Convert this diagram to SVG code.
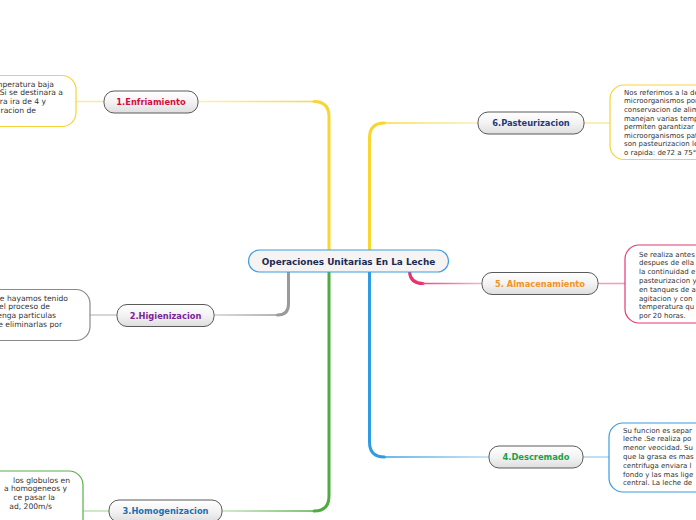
<svg xmlns="http://www.w3.org/2000/svg" width="696" height="520" viewBox="0 0 696 520">
<defs>
<linearGradient id="nodeFill" x1="0" y1="0" x2="0" y2="1">
<stop offset="0" stop-color="#ffffff"/>
<stop offset="0.5" stop-color="#f3f3f3"/>
<stop offset="1" stop-color="#dedede"/>
</linearGradient>
<linearGradient id="gY1" gradientUnits="userSpaceOnUse" x1="315" y1="0" x2="198" y2="0"><stop offset="0" stop-color="#f8d93e"/><stop offset="1" stop-color="#fcefb8"/></linearGradient>
<linearGradient id="gY6" gradientUnits="userSpaceOnUse" x1="384" y1="0" x2="478" y2="0"><stop offset="0" stop-color="#f8d93e"/><stop offset="1" stop-color="#fcefb8"/></linearGradient>
<linearGradient id="gGr" gradientUnits="userSpaceOnUse" x1="278" y1="0" x2="214" y2="0"><stop offset="0" stop-color="#9a9a9a"/><stop offset="1" stop-color="#cfcfcf"/></linearGradient>
<linearGradient id="gGn" gradientUnits="userSpaceOnUse" x1="315" y1="0" x2="222" y2="0"><stop offset="0" stop-color="#55ad45"/><stop offset="1" stop-color="#c4e3bd"/></linearGradient>
<linearGradient id="gBl" gradientUnits="userSpaceOnUse" x1="384" y1="0" x2="489" y2="0"><stop offset="0" stop-color="#3aa0e6"/><stop offset="1" stop-color="#b5dbf5"/></linearGradient>
<linearGradient id="gPk" gradientUnits="userSpaceOnUse" x1="422" y1="0" x2="482" y2="0"><stop offset="0" stop-color="#ec4b80"/><stop offset="1" stop-color="#f7b3ca"/></linearGradient>
</defs>
<style>
.main{fill:none;stroke-width:3;stroke-linecap:round}
.thin{fill:none;stroke-width:1.5}
.sub rect{fill:url(#nodeFill);stroke:#5a5a5a;stroke-width:1}
.sub text{font-family:"DejaVu Sans",Verdana,sans-serif;font-weight:bold;font-size:8.3px;text-anchor:middle}
.box rect{fill:#ffffff;stroke-width:1.2}
.box text{font-family:"DejaVu Sans",Verdana,sans-serif;font-size:7px;fill:#333333}
.l text{text-anchor:end;font-size:7.6px}
</style>
<rect width="696" height="520" fill="#ffffff"/>
<g id="connectors">
<path class="main" d="M329 250 V117 Q329 101.5 314 101.5" stroke="#f8d631"/>
<path class="thin" d="M315 101.5 H198" stroke="url(#gY1)"/>
<path class="thin" d="M104 101.5 H76" stroke="#fbe8a2"/>
<path class="main" d="M369.5 250 V138 Q369.5 123 384.5 123" stroke="#f8d631"/>
<path class="thin" d="M384 123 H478" stroke="url(#gY6)"/>
<path class="thin" d="M584 123 H610" stroke="#fbe8a2"/>
<path class="main" d="M288.5 272 V304 Q288.5 315 277.5 315" stroke="#9a9a9a"/>
<path class="thin" d="M278 315 H214" stroke="url(#gGr)"/>
<path class="thin" d="M117 315 H90" stroke="#c8c8c8"/>
<path class="main" d="M329 272 V496 Q329 511 314 511" stroke="#4fab3f"/>
<path class="thin" d="M315 511 H222" stroke="url(#gGn)"/>
<path class="thin" d="M109 511 H83" stroke="#bfe0b6"/>
<path class="main" d="M369.5 272 V442 Q369.5 457 384.5 457" stroke="#2f9be3"/>
<path class="thin" d="M384 457 H489" stroke="url(#gBl)"/>
<path class="thin" d="M583 457 H609" stroke="#a9d5f3"/>
<path class="main" d="M409.5 272 Q410.5 283.5 423 283.5" stroke="#e8336e"/>
<path class="thin" d="M422 283.5 H482" stroke="url(#gPk)"/>
<path class="thin" d="M598 283.5 H625" stroke="#f59ab9"/>
</g>
<g id="center">
<rect x="248.5" y="250" width="200" height="22" rx="11" fill="#f6f3f3" stroke="#3d9ee0" stroke-width="1.2"/>
<text x="348.5" y="265.3" font-family="DejaVu Sans,Verdana,sans-serif" font-weight="bold" font-size="8.9px" text-anchor="middle" fill="#1b2a52">Operaciones Unitarias En La Leche</text>
</g>
<g id="n1" class="sub">
<rect x="104" y="91" width="94" height="22" rx="10"/>
<text x="151" y="105" fill="#d40c3c">1.Enfriamiento</text>
</g>
<g id="n2" class="sub">
<rect x="117" y="304.5" width="97" height="22" rx="10"/>
<text x="165.5" y="318.5" fill="#7b2595">2.Higienizacion</text>
</g>
<g id="n3" class="sub">
<rect x="109" y="500" width="113" height="22" rx="10"/>
<text x="165.5" y="514.2" fill="#1c6fb0">3.Homogenizacion</text>
</g>
<g id="n6" class="sub">
<rect x="478" y="112" width="106" height="22" rx="10"/>
<text x="531" y="126" fill="#1e3a7b">6.Pasteurizacion</text>
</g>
<g id="n5" class="sub">
<rect x="482" y="272.5" width="116" height="22" rx="10"/>
<text x="540" y="286.6" fill="#f39423">5. Almacenamiento</text>
</g>
<g id="n4" class="sub">
<rect x="489" y="446" width="94" height="22" rx="10"/>
<text x="536" y="460.2" fill="#16a34a">4.Descremado</text>
</g>
<g id="b1" class="box l">
<rect x="-100" y="75.5" width="176" height="51" rx="14" stroke="#f7d33a"/>
<text x="54" y="86.5">mperatura baja</text>
<text x="63" y="95.3">. Si se destinara a</text>
<text x="46" y="104.1">ra ira de 4 y</text>
<text x="36" y="112.9">racion de</text>
</g>
<g id="b2" class="box l">
<rect x="-100" y="289.5" width="190" height="51" rx="14" stroke="#8a8a8a"/>
<text x="68" y="300.5">e hayamos tenido</text>
<text x="50" y="309.3">el proceso de</text>
<text x="56" y="318.1">enga particulas</text>
<text x="62" y="326.9">e eliminarlas por</text>
</g>
<g id="b3" class="box l">
<rect x="-100" y="471" width="183" height="80" rx="14" stroke="#5aae48"/>
<text x="70" y="482.5">los globulos en</text>
<text x="67" y="491.3">a homogeneos y</text>
<text x="55" y="500.1">ce pasar la</text>
<text x="52" y="508.9">ad, 200m/s</text>
</g>
<g id="b6" class="box">
<rect x="610" y="85" width="150" height="74.5" rx="14" stroke="#f7d33a"/>
<text x="624" y="94.8">Nos referimos a la de</text>
<text x="624" y="103.4">microorganismos por</text>
<text x="624" y="112">conservacion de alim</text>
<text x="624" y="120.6">manejan varias temp</text>
<text x="624" y="129.2">permiten garantizar</text>
<text x="624" y="137.8">microorganismos pat</text>
<text x="624" y="146.4">son pasteurizacion le</text>
<text x="624" y="155">o rapida: de72 a 75°</text>
</g>
<g id="b5" class="box">
<rect x="625" y="245" width="150" height="78" rx="14" stroke="#e23a72"/>
<text x="639" y="256.5">Se realiza antes</text>
<text x="639" y="265.3">despues de ella</text>
<text x="639" y="274.1">la continuidad e</text>
<text x="639" y="282.9">pasteurizacion y</text>
<text x="639" y="291.7">en tanques de a</text>
<text x="639" y="300.5">agitacion y con</text>
<text x="639" y="309.3">temperatura qu</text>
<text x="639" y="318.1">por 20 horas.</text>
</g>
<g id="b4" class="box">
<rect x="609" y="423" width="150" height="69" rx="14" stroke="#3b9be3"/>
<text x="623" y="432.5">Su funcion es separ</text>
<text x="623" y="441.3">leche .Se realiza po</text>
<text x="623" y="450.1">menor veocidad. Su</text>
<text x="623" y="458.9">que la grasa es mas</text>
<text x="623" y="467.7">centrifuga enviara l</text>
<text x="623" y="476.5">fondo y las mas lige</text>
<text x="623" y="485.3">central. La leche de</text>
</g>
</svg>
